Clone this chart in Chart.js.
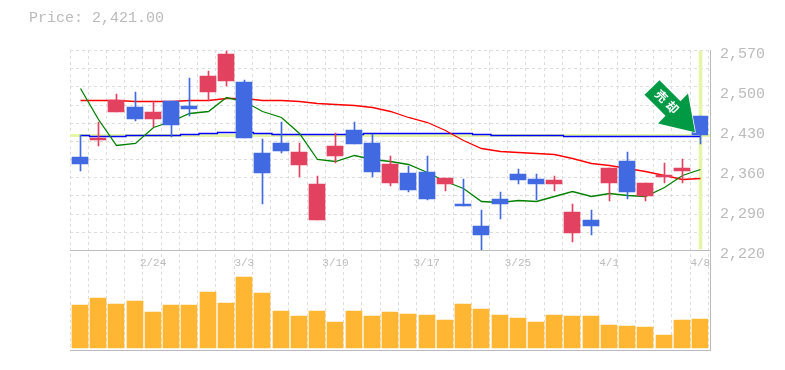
<!DOCTYPE html>
<html><head><meta charset="utf-8">
<style>html,body{margin:0;padding:0;background:#fff}canvas{display:block}</style>
<script src="https://cdn.jsdelivr.net/npm/chart.js@4"></script>
</head><body><canvas id="c" width="785" height="370"></canvas>
<script>
const titleText = "Price: 2,421.00";
const dates = ["2/18","2/19","2/20","2/21","2/24","2/25","2/26","2/27","2/28","3/3","3/4","3/5","3/6","3/7","3/10","3/11","3/12","3/13","3/14","3/17","3/18","3/19","3/21","3/24","3/25","3/26","3/27","3/28","3/31","4/1","4/2","4/3","4/4","4/7","4/8"];
const shownDates = ["2/24","3/3","3/10","3/17","3/25","4/1","4/8"];
const priceTicks = [2220,2290,2360,2430,2500,2570];
const lastPrice = 2421;
const open  = [2383,2412.5,2461.5,2470,2449,2481,2472,2496.5,2516,2514,2390,2407,2369,2272.5,2384.5,2430,2407,2337,2355,2356.5,2335.5,2300.5,2262,2309,2353,2344,2335.5,2250,2272.5,2337,2376,2314.5,2348,2358,2454.5];
const close = [2370.5,2416,2482.5,2449,2461.5,2439,2467,2524.5,2563,2416,2355,2393,2391.5,2335.5,2402,2405.5,2356.5,2370.5,2325,2309,2346,2297,2246,2300.5,2342.5,2335.5,2342.5,2286.5,2262,2363.5,2321.5,2337,2351,2363.5,2421];
const high  = [2421,2444,2493,2496.5,2481,2481,2521,2533,2568,2517.5,2414,2444,2407,2349.5,2425,2444,2423,2384.5,2367,2384.5,2346,2344,2290,2321.5,2362,2353,2349.5,2300.5,2290,2363.5,2391.5,2337,2372,2379,2454.5];
const low   = [2358,2402,2461.5,2446,2435,2418,2454.5,2481,2507,2416,2300.5,2390,2348,2272.5,2372,2405.5,2348,2332,2321.5,2307.5,2323,2297,2220,2274,2335.5,2307.5,2323,2234,2246,2306,2309,2306,2337,2337,2405.5];
const maShort = [2504,2449,2403,2408,2436,2445,2459,2464,2487,2480,2464,2452,2424,2380,2376,2387,2380,2375,2371,2357,2341,2329,2306,2304,2308,2306,2315,2324,2315,2319,2317,2315,2331,2351,2361];
const maMid   = [2482,2482,2482,2481,2481,2481,2482,2483,2486,2486,2483,2482,2480,2477,2475,2473,2470,2463,2453,2444,2430,2412,2398,2393,2391,2389,2388,2381,2373,2369,2364,2358,2351,2344,2346];
const maLong  = [2421,2420,2419,2421,2421,2421,2423,2424,2426,2426,2424,2423,2423,2423,2423,2423,2425,2425,2425,2425,2425,2425,2423,2421,2421,2421,2421,2419,2419,2419,2419,2419,2419,2419,2419];
const volume = [43,50,44,47,36,43,43,56,45,71,55,37,32,37,26,37,32,36,34,33,28,44,39,33,30,26,33,32,32,23,22,21,13,28,29];
const bandRange = [2222,2568];
const arrowLabel = "売却";

const UP="#e2425f", DOWN="#4169e1", TXT="#bbbbbb", GRID="#dddddd", AXIS="#bbbbbb", YEL="#e5f5aa";
const FONT="'Liberation Mono', monospace";
const last = dates.length-1;
const isUp = i => close[i] >= open[i];
const candleColor = c => isUp(c.dataIndex) ? UP : DOWN;
const gridDivisions = 11;
const frameRight = 710;

const panelPlugin = {
  id:"panel",
  afterDatasetsUpdate(chart){
    // snap to whole pixels so 1px lines stay crisp
    chart.data.datasets.forEach((ds,k)=>{
      const meta = chart.getDatasetMeta(k);
      const half = ds.snapHalf ? 0.5 : 0;
      meta.data.forEach(el=>{
        el.x = Math.round(el.x + 0.88) + half;
        if (ds.type !== "line") { el.y = Math.round(el.y); el.base = Math.round(el.base); }
        else { el.y = Math.round(el.y) + 0.5; }
      });
    });
  },
  beforeDatasetsDraw(chart){
    const {ctx, chartArea:a, scales:{y}} = chart;
    const top = y.getPixelForValue(y.max), bot = y.getPixelForValue(y.min);
    ctx.save();
    ctx.strokeStyle = GRID; ctx.lineWidth = 1; ctx.setLineDash([3,3]);
    for (let i=0;i<gridDivisions;i++){
      const py = Math.round(top + (bot-top)*i/gridDivisions) + 0.5;
      ctx.beginPath(); ctx.moveTo(a.left,py); ctx.lineTo(frameRight,py); ctx.stroke();
    }
    ctx.setLineDash([]);
    const py = Math.round(y.getPixelForValue(lastPrice));
    ctx.fillStyle = YEL; ctx.fillRect(a.left, py-1, frameRight-a.left, 3);
    ctx.strokeStyle = AXIS;
    const line = (x1,y1,x2,y2)=>{ctx.beginPath();ctx.moveTo(x1,y1);ctx.lineTo(x2,y2);ctx.stroke();};
    line(a.left,Math.round(bot)+0.5,frameRight+1,Math.round(bot)+0.5);
    line(a.left,a.bottom+0.5,frameRight+1,a.bottom+0.5);
    line(frameRight+0.5,Math.round(top),frameRight+0.5,a.bottom+1);
    ctx.restore();
  },
  afterDraw(chart){
    const {ctx, scales:{y}} = chart;
    ctx.save();
    ctx.fillStyle = TXT; ctx.font = "15px "+FONT; ctx.textBaseline="middle"; ctx.textAlign="left";
    ctx.fillText(titleText, 29, 18);
    // sell arrow, anchored on the last candle
    const ax = chart.getDatasetMeta(0).data[last].x, ay = y.getPixelForValue(lastPrice);
    const shape = [[-41,-55],[-20,-34],[-12.5,-41.7],[-5.5,-3],[-42.5,-11.7],[-35,-19.3],[-56,-40.3]];
    ctx.beginPath();
    shape.forEach(([dx,dy],i)=> i ? ctx.lineTo(ax+dx,ay+dy) : ctx.moveTo(ax+dx,ay+dy));
    ctx.closePath();
    ctx.lineWidth = 1.5; ctx.strokeStyle="#fff"; ctx.lineJoin="round"; ctx.stroke();
    ctx.fillStyle = "#009944"; ctx.fill();
    ctx.translate(ax-33.5, ay-33.5); ctx.rotate(Math.PI/4);
    ctx.fillStyle="#fff"; ctx.font="bold 12px 'Noto Sans CJK JP'"; ctx.textAlign="center"; ctx.textBaseline="middle";
    Array.from(arrowLabel).forEach((ch,i)=> ctx.fillText(ch, i ? 7.8 : -7.8, 0));
    ctx.restore();
  }
};

new Chart(document.getElementById("c"),{
  data:{ labels:dates, datasets:[
    {type:"bar",label:"wick",data:low.map((l,i)=>[l,high[i]]),yAxisID:"y",grouped:false,barThickness:1,snapHalf:true,backgroundColor:candleColor,order:1},
    {type:"bar",label:"body",data:open.map((o,i)=>[o,close[i]]),yAxisID:"y",grouped:false,barThickness:16,backgroundColor:candleColor,order:0},
    {type:"line",label:"short",data:maShort,yAxisID:"y",borderColor:"#008000",borderWidth:1.3,pointRadius:0,tension:0,snapHalf:true,order:3},
    {type:"line",label:"mid",data:maMid,yAxisID:"y",borderColor:"#ff0000",borderWidth:1.3,pointRadius:0,tension:0,snapHalf:true,order:4},
    {type:"line",label:"long",data:maLong,yAxisID:"y",borderColor:"#0000ff",borderWidth:1.3,pointRadius:0,stepped:"middle",snapHalf:true,order:5},
    {type:"bar",label:"band",data:dates.map((d,i)=> i===last ? bandRange : null),yAxisID:"y",grouped:false,barThickness:3,snapHalf:true,backgroundColor:YEL,order:6},
    {type:"bar",label:"volume",data:volume,yAxisID:"v",grouped:false,barThickness:16,backgroundColor:"#ffb733",order:7}
  ]},
  options:{
    responsive:false, animation:false,
    layout:{padding:{left:70,top:50,right:0,bottom:20}},
    plugins:{legend:{display:false},tooltip:{enabled:false},title:{display:false}},
    scales:{
      x:{type:"category",offset:true,position:{y:2220},
        grid:{color:GRID,offset:true,drawTicks:false},
        border:{display:false,dash:[3,3]},
        ticks:{autoSkip:false,maxRotation:0,padding:6,color:TXT,font:{family:FONT,size:11},labelOffset:1,
          callback(v){const s=this.getLabelForValue(v);return shownDates.includes(s)?s:"";}},
        afterFit(s){s.height=0;}
      },
      y:{type:"linear",position:"right",stack:"p",stackWeight:2,min:2220,max:2570,
        grid:{display:false},border:{display:false},
        afterBuildTicks(s){s.ticks=priceTicks.map(v=>({value:v}));},
        afterFit(s){s.width=76.6;},
        ticks:{padding:3.6,align:"center",crossAlign:"near",autoSkip:false,labelOffset:4,color:TXT,font:{family:FONT,size:15},
          callback(v){return Number(v).toLocaleString("en-US");}}
      },
      v:{type:"linear",position:"right",stack:"p",stackWeight:1,min:-2,max:98,
        grid:{display:false},border:{display:false},ticks:{display:false},
        afterFit(s){s.width=76.6;}
      }
    }
  },
  plugins:[panelPlugin]
});
</script></body></html>
